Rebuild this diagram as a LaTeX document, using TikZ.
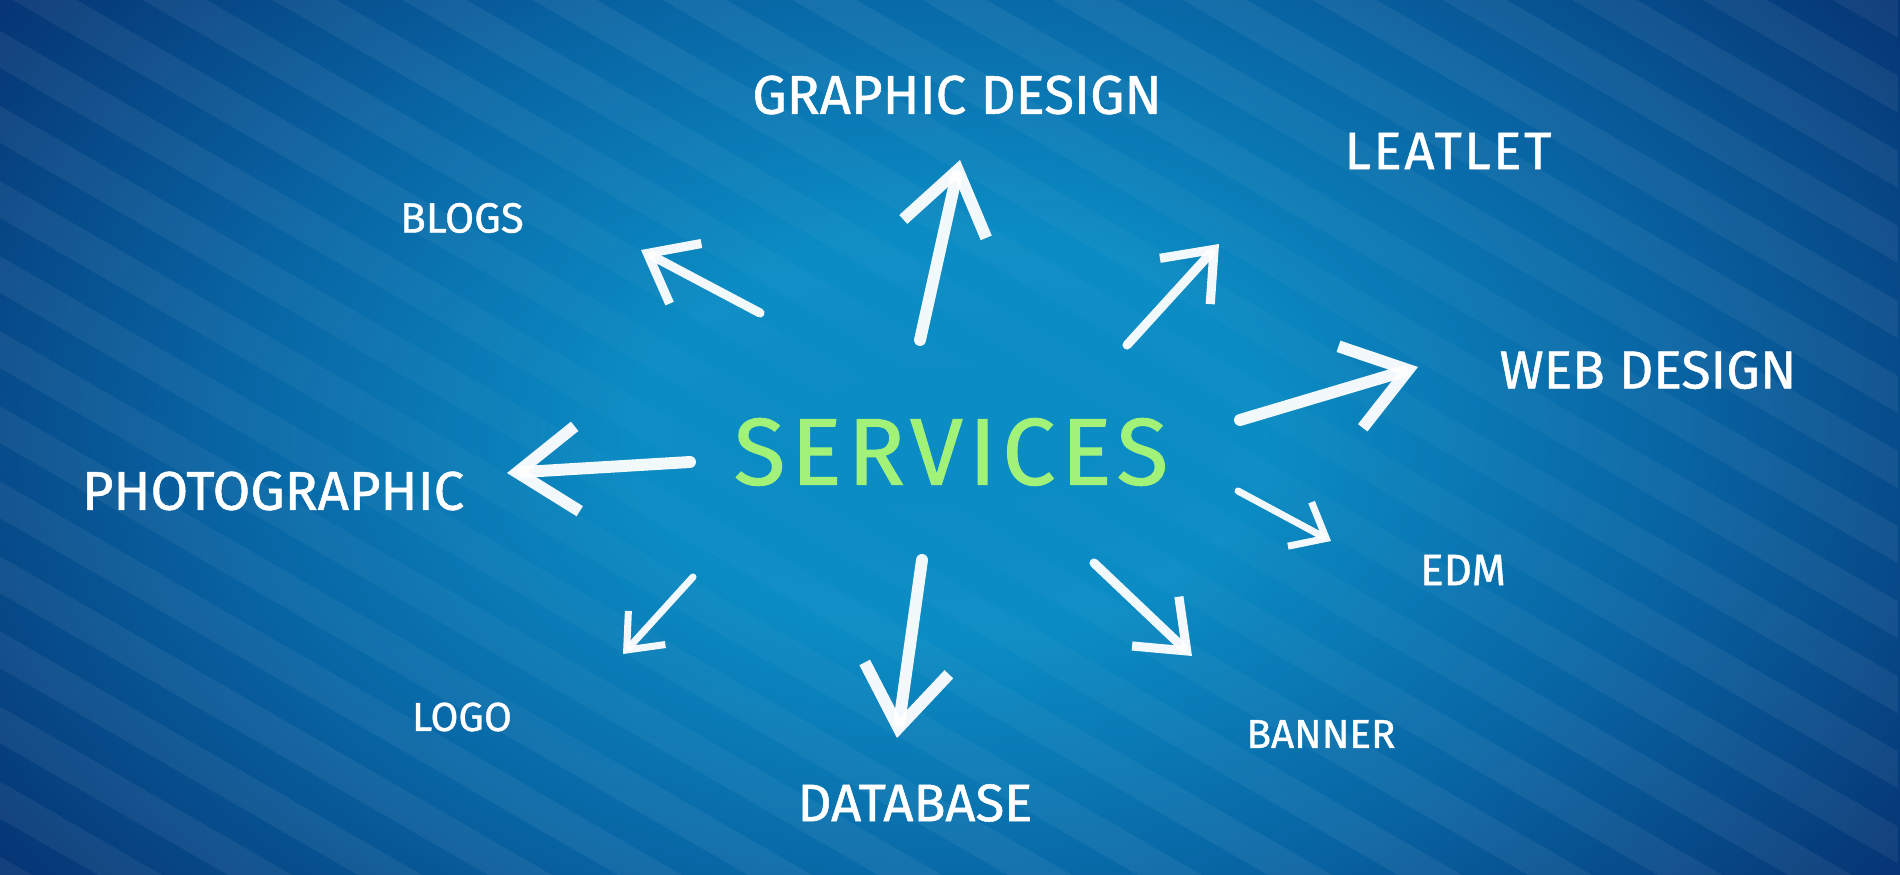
\documentclass[tikz,border=0pt]{standalone}
\usepackage{fontspec}
\setmainfont{Fira Sans}
\usetikzlibrary{arrows.meta,positioning,fadings,patterns.meta}

\definecolor{bgcore}{HTML}{0B8CC4}
\definecolor{bgmid}{HTML}{0864A3}
\definecolor{bgedge}{HTML}{063675}
\definecolor{chalkgreen}{HTML}{A2F27A}

\pgfdeclareradialshading{bgglow}{\pgfpointorigin}{color(0bp)=(bgcore); color(6bp)=(bgcore); color(14bp)=(bgmid); color(22bp)=(bgedge); color(50bp)=(bgedge)}
\tikzfading[name=stripefade, inner color=transparent!100, outer color=transparent!94]

\tikzset{
  word/.style={text=white, inner sep=0pt, font=\fontsize{#1}{#1}\selectfont\addfontfeatures{FakeBold=1}},
  chalk/.style={draw=white, line cap=round, line join=round, draw opacity=0.95},
  bigstroke/.style={chalk, line width=3.4pt, -{Straight Barb[length=6mm,width=8.5mm]}},
  midstroke/.style={chalk, line width=2.6pt, -{Straight Barb[length=4.3mm,width=6.8mm]}},
  thinstroke/.style={chalk, line width=2pt, -{Straight Barb[length=3mm,width=5mm]}}
}

\begin{document}
\begin{tikzpicture}
  \useasboundingbox (0,0) rectangle (19,8.75);

  % Background glow and stripes
  \begin{scope}
    \clip (0,0) rectangle (19,8.75);
    \fill[bgedge] (0,0) rectangle (19,8.75);
    \shade[shading=bgglow] (9.5,4.4) ellipse (13 and 8.5);
  \end{scope}
  \fill[pattern={Lines[angle=-30,distance=6.5mm,line width=3.2mm]}, pattern color=white,
        path fading=stripefade] (0,0) rectangle (19,8.75);

  % Centre word
  \node[word=27pt, text=chalkgreen] (svc) at (9.51,4.23) {\addfontfeatures{LetterSpace=6}SERVICES};

  % Service names
  \node[word=15.5pt] (gd)  at (9.57,7.80)  {GRAPHIC DESIGN};
  \node[word=15pt] (lf)  at (14.48,7.24) {\addfontfeatures{LetterSpace=5}LEATLET};
  \node[word=12pt] (bl)  at (4.62,6.57)  {BLOGS};
  \node[word=15.2pt] (wd)  at (16.48,5.05) {WEB DESIGN};
  \node[word=15.5pt] (ph)  at (2.73,3.84)  {PHOTOGRAPHIC};
  \node[word=12.5pt] (edm) at (14.63,3.05) {EDM};
  \node[word=11.5pt] (lg)  at (4.62,1.58)  {LOGO};
  \node[word=11.5pt] (bn)  at (13.21,1.41) {BANNER};
  \node[word=15pt] (db)  at (9.15,0.72)  {DATABASE};

  % Arrow ends
  \coordinate (gd-from)  at (9.20,5.35);  \coordinate (gd-to)  at (9.60,7.15);
  \coordinate (lf-from)  at (11.27,5.30); \coordinate (lf-to)  at (12.19,6.31);
  \coordinate (bl-from)  at (7.60,5.62);  \coordinate (bl-to)  at (6.41,6.25);
  \coordinate (wd-from)  at (12.40,4.55); \coordinate (wd-to)  at (14.18,5.08);
  \coordinate (ph-from)  at (6.90,4.13);  \coordinate (ph-to)  at (5.07,4.02);
  \coordinate (edm-from) at (12.38,3.84); \coordinate (edm-to) at (13.31,3.34);
  \coordinate (bn-from)  at (10.94,3.12); \coordinate (bn-to)  at (11.92,2.19);
  \coordinate (db-from)  at (9.22,3.15);  \coordinate (db-to)  at (8.97,1.37);
  \coordinate (lg-from)  at (6.93,2.98);  \coordinate (lg-to)  at (6.23,2.21);

  % Chalk arrows
  \path
    (gd-from)  edge[bigstroke]  (gd-to)
    (wd-from)  edge[bigstroke]  (wd-to)
    (ph-from)  edge[bigstroke]  (ph-to)
    (db-from)  edge[bigstroke]  (db-to)
    (lf-from)  edge[midstroke]  (lf-to)
    (bl-from)  edge[midstroke]  (bl-to)
    (bn-from)  edge[midstroke]  (bn-to)
    (edm-from) edge[thinstroke] (edm-to)
    (lg-from)  edge[thinstroke] (lg-to);

\end{tikzpicture}
\end{document}
